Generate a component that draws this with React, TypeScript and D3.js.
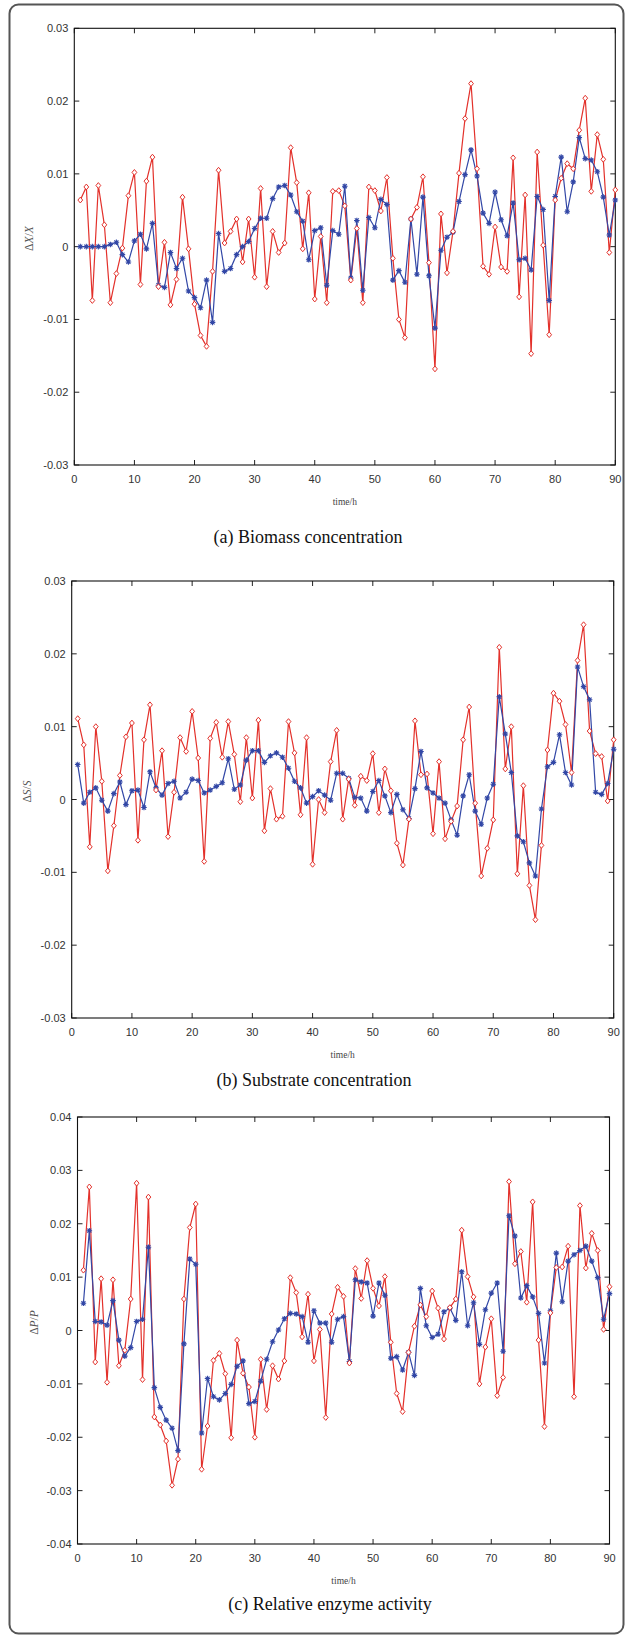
import React from 'react';
import * as d3 from 'd3';

// time axis (hours) and tick values
const timeH = d3.range(1, 91);
const xTicks = [0, 10, 20, 30, 40, 50, 60, 70, 80, 90];
const yTicksAB = [-0.03, -0.02, -0.01, 0, 0.01, 0.02, 0.03];
const yTicksC = [-0.04, -0.03, -0.02, -0.01, 0, 0.01, 0.02, 0.03, 0.04];

// (a) biomass: red diamonds / blue stars
const biomassDiamond = [
  0.0064, 0.0082, -0.0074, 0.0084, 0.0030, -0.0077, -0.0037, -0.0002, 0.0070, 0.0102,
  -0.0052, 0.0090, 0.0123, -0.0055, 0.0006, -0.0080, -0.0045, 0.0068, -0.0003, -0.0079,
  -0.0122, -0.0137, -0.0034, 0.0105, 0.0005, 0.0021, 0.0038, -0.0021, 0.0038, -0.0042,
  0.0080, -0.0055, 0.0021, -0.0008, 0.0005, 0.0136, 0.0088, -0.0003, 0.0074, -0.0072,
  0.0014, -0.0077, 0.0076, 0.0077, 0.0056, -0.0046, 0.0025, -0.0077, 0.0082, 0.0077,
  0.0049, 0.0095, -0.0016, -0.0100, -0.0125, 0.0038, 0.0054, 0.0096, -0.0022, -0.0168,
  0.0045, -0.0036, 0.0021, 0.0101, 0.0176, 0.0224, 0.0107, -0.0027, -0.0038, 0.0027,
  -0.0028, -0.0034, 0.0122, -0.0069, 0.0071, -0.0147, 0.0130, 0.0002, -0.0121, 0.0064,
  0.0094, 0.0114, 0.0107, 0.0160, 0.0204, 0.0076, 0.0154, 0.0120, -0.0008, 0.0078,
];
const biomassStar = [
  0, 0, 0, 0, 0, 0.0003, 0.0006, -0.0011, -0.0021, 0.0008,
  0.0017, -0.0003, 0.0032, -0.0053, -0.0056, -0.0008, -0.0030, -0.0016, -0.0061, -0.0070,
  -0.0084, -0.0046, -0.0104, 0.0018, -0.0034, -0.0030, -0.0011, 0.0000, 0.0007, 0.0025,
  0.0039, 0.0039, 0.0066, 0.0082, 0.0084, 0.0071, 0.0048, 0.0035, -0.0018, 0.0022,
  0.0026, -0.0053, 0.0022, 0.0017, 0.0083, -0.0043, 0.0036, -0.0060, 0.0040, 0.0026,
  0.0065, 0.0058, -0.0046, -0.0033, -0.0049, 0.0038, -0.0038, 0.0068, -0.0040, -0.0112,
  -0.0005, 0.0013, 0.0020, 0.0062, 0.0099, 0.0133, 0.0097, 0.0046, 0.0032, 0.0075,
  0.0037, 0.0015, 0.0060, -0.0018, -0.0016, -0.0032, 0.0069, 0.0051, -0.0074, 0.0069,
  0.0123, 0.0048, 0.0089, 0.0150, 0.0121, 0.0119, 0.0103, 0.0068, 0.0016, 0.0064,
];

// (b) substrate
const substrateDiamond = [
  0.0111, 0.0075, -0.0065, 0.0100, 0.0025, -0.0098, -0.0036, 0.0033, 0.0086, 0.0105,
  -0.0056, 0.0082, 0.0130, 0.0013, 0.0067, -0.0051, 0.0010, 0.0085, 0.0066, 0.0121,
  0.0057, -0.0085, 0.0084, 0.0106, 0.0058, 0.0107, 0.0062, -0.0003, 0.0085, 0.0002,
  0.0109, -0.0043, 0.0015, -0.0027, -0.0023, 0.0107, 0.0064, -0.0021, 0.0085, -0.0089,
  0.0000, -0.0018, 0.0052, 0.0095, -0.0027, 0.0028, -0.0008, 0.0032, 0.0026, 0.0063,
  -0.0018, 0.0042, 0.0012, -0.0060, -0.0090, -0.0027, 0.0108, 0.0034, 0.0035, -0.0047,
  0.0052, -0.0054, -0.0030, -0.0009, 0.0082, 0.0127, -0.0005, -0.0105, -0.0067, -0.0028,
  0.0209, 0.0042, 0.0100, -0.0102, 0.0019, -0.0118, -0.0165, -0.0063, 0.0068, 0.0146,
  0.0135, 0.0103, 0.0037, 0.0191, 0.0240, 0.0094, 0.0063, 0.0059, -0.0002, 0.0082,
];
const substrateStar = [
  0.0048, -0.0005, 0.0010, 0.0016, -0.0001, -0.0016, 0.0008, 0.0024, -0.0007, 0.0012,
  0.0013, -0.0011, 0.0038, 0.0016, 0.0006, 0.0022, 0.0025, 0.0002, 0.0010, 0.0028,
  0.0026, 0.0009, 0.0013, 0.0018, 0.0023, 0.0056, 0.0014, 0.0020, 0.0054, 0.0067,
  0.0067, 0.0051, 0.0060, 0.0064, 0.0058, 0.0043, 0.0025, 0.0016, -0.0005, 0.0004,
  0.0012, 0.0006, -0.0001, 0.0036, 0.0036, 0.0029, 0.0003, 0.0002, -0.0016, 0.0011,
  0.0026, 0.0005, -0.0018, 0.0007, -0.0014, -0.0026, 0.0015, 0.0066, 0.0016, 0.0009,
  0.0002, -0.0005, -0.0028, -0.0049, 0.0005, 0.0034, -0.0016, -0.0034, 0.0002, 0.0021,
  0.0141, 0.0090, 0.0037, -0.0050, -0.0058, -0.0087, -0.0105, -0.0013, 0.0045, 0.0051,
  0.0089, 0.0037, 0.0020, 0.0182, 0.0155, 0.0137, 0.0010, 0.0007, 0.0022, 0.0069,
];

// (c) relative enzyme activity
const enzymeDiamond = [
  0.0113, 0.0269, -0.0059, 0.0097, -0.0097, 0.0095, -0.0066, -0.0037, 0.0059, 0.0276,
  -0.0092, 0.0250, -0.0162, -0.0177, -0.0207, -0.0290, -0.0241, 0.0059, 0.0193, 0.0237,
  -0.0260, -0.0179, -0.0056, -0.0043, -0.0081, -0.0201, -0.0018, -0.0080, -0.0106, -0.0200,
  -0.0054, -0.0148, -0.0066, -0.0091, -0.0057, 0.0099, 0.0071, -0.0012, 0.0068, -0.0057,
  0.0002, -0.0163, 0.0031, 0.0081, 0.0064, -0.0061, 0.0116, 0.0060, 0.0131, 0.0079,
  0.0046, 0.0101, -0.0022, -0.0118, -0.0152, -0.0041, 0.0008, 0.0048, 0.0026, 0.0074,
  0.0042, -0.0016, 0.0043, 0.0059, 0.0188, 0.0101, 0.0063, -0.0100, -0.0031, 0.0022,
  -0.0122, -0.0088, 0.0279, 0.0125, 0.0148, 0.0053, 0.0241, -0.0018, -0.0180, 0.0033,
  0.0118, 0.0119, 0.0158, -0.0124, 0.0234, 0.0117, 0.0182, 0.0150, 0.0002, 0.0082,
];
const enzymeStar = [
  0.0051, 0.0187, 0.0017, 0.0016, 0.0010, 0.0056, -0.0018, -0.0048, -0.0032, 0.0017,
  0.0021, 0.0156, -0.0107, -0.0144, -0.0168, -0.0183, -0.0225, -0.0025, 0.0134, 0.0124,
  -0.0192, -0.0090, -0.0124, -0.0130, -0.0118, -0.0101, -0.0067, -0.0057, -0.0137, -0.0133,
  -0.0095, -0.0054, -0.0021, 0.0001, 0.0022, 0.0032, 0.0031, 0.0026, -0.0022, 0.0037,
  0.0014, 0.0014, -0.0022, 0.0021, 0.0026, -0.0058, 0.0095, 0.0091, 0.0089, 0.0027,
  0.0089, 0.0066, -0.0052, -0.0049, -0.0074, -0.0041, -0.0084, 0.0079, 0.0009, -0.0013,
  -0.0007, 0.0035, 0.0042, 0.0019, 0.0110, 0.0009, 0.0052, -0.0026, 0.0039, 0.0070,
  0.0089, -0.0039, 0.0215, 0.0177, 0.0061, 0.0084, 0.0063, 0.0032, -0.0061, 0.0037,
  0.0145, 0.0054, 0.0130, 0.0142, 0.0150, 0.0158, 0.0130, 0.0099, 0.0021, 0.0069,
];

const RED = '#e3312b'
const BLUE = '#3247a6'
const tickFont = '"Liberation Sans", Arial, sans-serif'
const serif = '"Liberation Serif", "Times New Roman", serif'

const fmt = (v: number) => (Math.abs(v) < 1e-9 ? '0' : v.toFixed(2))

const starPath = (r: number) => {
  const d = r * 0.72
  return `M${-r},0H${r}M0,${-r}V${r}M${-d},${-d}L${d},${d}M${-d},${d}L${d},${-d}`
}

type PanelProps = {
  left: number
  right: number
  top: number
  bottom: number
  yTicks: number[]
  diamond: number[]
  star: number[]
  sym: string
  labelX: number
  caption: string
  captionX: number
  captionY: number
}

const Panel = ({ left, right, top, bottom, yTicks, diamond, star, sym, labelX, caption, captionX, captionY }: PanelProps) => {
  const x = d3.scaleLinear().domain([0, 90]).range([left, right])
  const y = d3.scaleLinear().domain([yTicks[0], yTicks[yTicks.length - 1]]).range([bottom, top])
  const line = d3.line<number>().x((d, i) => x(timeH[i])).y(d => y(d))
  const tl = 5

  return (
    <g>
      {/* ticks, mirrored MATLAB style */}
      {xTicks.map(t => (
        <g key={'x' + t}>
          <line x1={x(t)} x2={x(t)} y1={bottom} y2={bottom - tl} stroke="#222" />
          <line x1={x(t)} x2={x(t)} y1={top} y2={top + tl} stroke="#222" />
          <text x={x(t)} y={bottom + 18} fontSize={11} fontFamily={tickFont} fill="#333" textAnchor="middle">{t}</text>
        </g>
      ))}
      {yTicks.map(t => (
        <g key={'y' + t}>
          <line x1={left} x2={left + tl} y1={y(t)} y2={y(t)} stroke="#222" />
          <line x1={right} x2={right - tl} y1={y(t)} y2={y(t)} stroke="#222" />
          <text x={left - 6} y={y(t) + 4} fontSize={11} fontFamily={tickFont} fill="#333" textAnchor="end">{fmt(t)}</text>
        </g>
      ))}
      <rect x={left} y={top} width={right - left} height={bottom - top} fill="none" stroke="#111" strokeWidth={1.1} />

      {/* series */}
      <path d={line(diamond) || ''} fill="none" stroke={RED} strokeWidth={1.2} />
      <path d={line(star) || ''} fill="none" stroke={BLUE} strokeWidth={1.2} />
      {star.map((v, i) => (
        <path key={'s' + i} d={starPath(2.8)} transform={`translate(${x(timeH[i])},${y(v)})`} stroke={BLUE} strokeWidth={1.1} fill="none" />
      ))}
      {diamond.map((v, i) => (
        <path key={'d' + i} d="M0,-2.9L2.4,0L0,2.9L-2.4,0Z" transform={`translate(${x(timeH[i])},${y(v)})`} stroke={RED} strokeWidth={1} fill="white" />
      ))}

      {/* labels */}
      <text transform={`translate(${labelX},${(top + bottom) / 2 - 8}) rotate(-90)`} fontSize={11.5} fontFamily={serif} fill="#555" textAnchor="middle">
        Δ<tspan fontStyle="italic">{sym}</tspan>/<tspan fontStyle="italic">{sym}</tspan>
      </text>
      <text x={(left + right) / 2} y={bottom + 40} fontSize={9.5} fontFamily={serif} fill="#444" textAnchor="middle">time/h</text>
      <text x={captionX} y={captionY + 6} fontSize={18} fontFamily={serif} fill="#111" textAnchor="middle">{caption}</text>
    </g>
  )
}

export default function App() {
  return (
    <svg width={627} height={1636} style={{ position: 'absolute', left: 0, top: 0, background: '#fff' }}>
      <rect x={9.5} y={4.5} width={614} height={1629} rx={9} fill="none" stroke="#555" strokeWidth={2} />
      <Panel left={74.3} right={615.3} top={28.3} bottom={465} yTicks={yTicksAB}
        diamond={biomassDiamond} star={biomassStar} sym="X" labelX={33}
        caption="(a) Biomass concentration" captionX={308} captionY={537} />
      <Panel left={71.7} right={613.7} top={581} bottom={1018} yTicks={yTicksAB}
        diamond={substrateDiamond} star={substrateStar} sym="S" labelX={31}
        caption="(b) Substrate concentration" captionX={314} captionY={1080} />
      <Panel left={77.5} right={609.5} top={1117} bottom={1544} yTicks={yTicksC}
        diamond={enzymeDiamond} star={enzymeStar} sym="P" labelX={38}
        caption="(c) Relative enzyme activity" captionX={330} captionY={1604} />
    </svg>
  )
}
